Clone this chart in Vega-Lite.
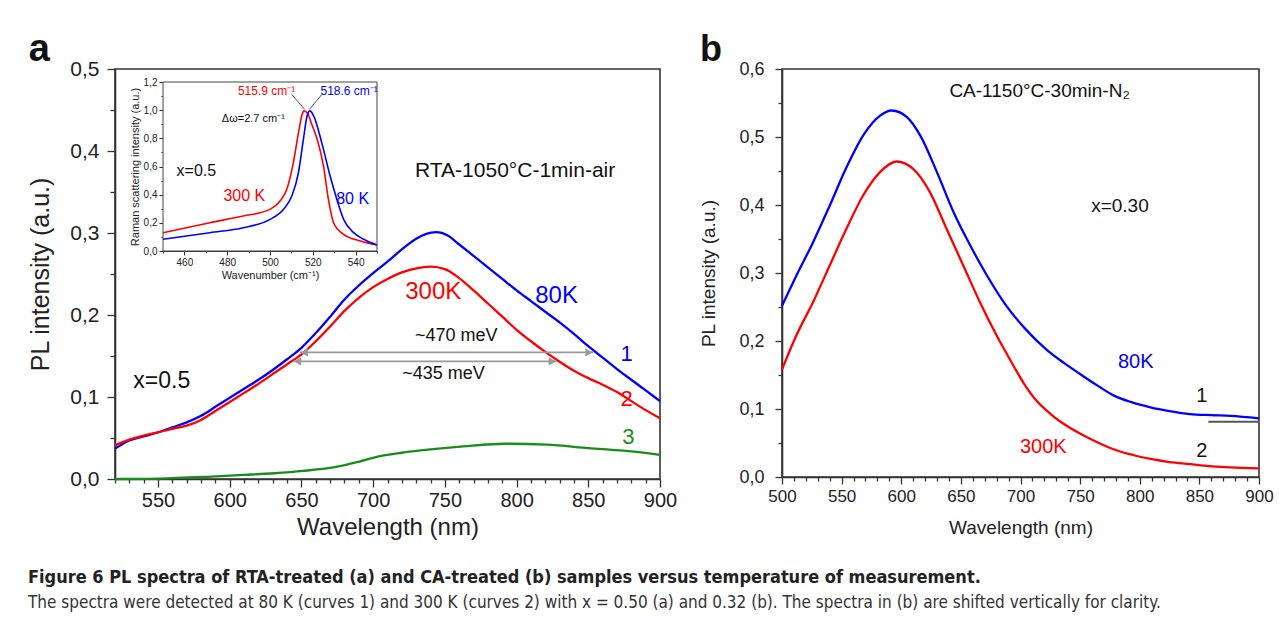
{
  "$schema": "https://vega.github.io/schema/vega-lite/v6.json",
  "padding": {"left": 28, "top": 30, "right": 3, "bottom": 5},
  "background": "white",
  "config": {
    "font": "Liberation Sans",
    "view": {"stroke": "#333", "strokeWidth": 1.6},
    "axis": {"grid": false, "domainColor": "#333", "domainWidth": 1.6, "tickColor": "#333", "tickWidth": 1.3, "labelColor": "#222", "titleColor": "#222", "labelFlush": false, "labelOverlap": false, "titleFontWeight": "normal", "labelFont": "Liberation Sans", "titleFont": "Liberation Sans"},
    "text": {"font": "Liberation Sans"}
  },
  "datasets": {
    "a_pl": [
      {"s":"1","nm":520,"v":0.037},{"s":"1","nm":530,"v":0.047},{"s":"1","nm":540,"v":0.052},{"s":"1","nm":550,"v":0.057},{"s":"1","nm":560,"v":0.063},{"s":"1","nm":570,"v":0.069},{"s":"1","nm":580,"v":0.077},{"s":"1","nm":590,"v":0.088},{"s":"1","nm":600,"v":0.099},{"s":"1","nm":610,"v":0.110},{"s":"1","nm":620,"v":0.121},{"s":"1","nm":630,"v":0.133},{"s":"1","nm":640,"v":0.146},{"s":"1","nm":650,"v":0.160},{"s":"1","nm":660,"v":0.178},{"s":"1","nm":670,"v":0.198},{"s":"1","nm":680,"v":0.219},{"s":"1","nm":690,"v":0.236},{"s":"1","nm":700,"v":0.251},{"s":"1","nm":710,"v":0.265},{"s":"1","nm":720,"v":0.280},{"s":"1","nm":730,"v":0.293},{"s":"1","nm":737,"v":0.299},{"s":"1","nm":744,"v":0.301},{"s":"1","nm":752,"v":0.297},{"s":"1","nm":760,"v":0.286},{"s":"1","nm":770,"v":0.272},{"s":"1","nm":780,"v":0.258},{"s":"1","nm":790,"v":0.244},{"s":"1","nm":800,"v":0.230},{"s":"1","nm":810,"v":0.217},{"s":"1","nm":820,"v":0.204},{"s":"1","nm":830,"v":0.191},{"s":"1","nm":840,"v":0.177},{"s":"1","nm":850,"v":0.162},{"s":"1","nm":860,"v":0.148},{"s":"1","nm":870,"v":0.134},{"s":"1","nm":880,"v":0.121},{"s":"1","nm":890,"v":0.108},{"s":"1","nm":900,"v":0.095},
      {"s":"2","nm":520,"v":0.041},{"s":"2","nm":530,"v":0.048},{"s":"2","nm":540,"v":0.053},{"s":"2","nm":550,"v":0.057},{"s":"2","nm":560,"v":0.061},{"s":"2","nm":570,"v":0.065},{"s":"2","nm":580,"v":0.072},{"s":"2","nm":590,"v":0.083},{"s":"2","nm":600,"v":0.094},{"s":"2","nm":610,"v":0.105},{"s":"2","nm":620,"v":0.116},{"s":"2","nm":630,"v":0.128},{"s":"2","nm":640,"v":0.140},{"s":"2","nm":650,"v":0.152},{"s":"2","nm":660,"v":0.168},{"s":"2","nm":670,"v":0.186},{"s":"2","nm":680,"v":0.205},{"s":"2","nm":690,"v":0.221},{"s":"2","nm":700,"v":0.234},{"s":"2","nm":710,"v":0.244},{"s":"2","nm":720,"v":0.252},{"s":"2","nm":730,"v":0.257},{"s":"2","nm":740,"v":0.259},{"s":"2","nm":750,"v":0.256},{"s":"2","nm":760,"v":0.245},{"s":"2","nm":770,"v":0.230},{"s":"2","nm":780,"v":0.214},{"s":"2","nm":790,"v":0.198},{"s":"2","nm":800,"v":0.182},{"s":"2","nm":810,"v":0.168},{"s":"2","nm":820,"v":0.155},{"s":"2","nm":830,"v":0.143},{"s":"2","nm":840,"v":0.132},{"s":"2","nm":850,"v":0.123},{"s":"2","nm":860,"v":0.115},{"s":"2","nm":870,"v":0.106},{"s":"2","nm":880,"v":0.095},{"s":"2","nm":890,"v":0.084},{"s":"2","nm":900,"v":0.074},
      {"s":"3","nm":520,"v":0.0},{"s":"3","nm":550,"v":0.0005},{"s":"3","nm":587,"v":0.003},{"s":"3","nm":610,"v":0.005},{"s":"3","nm":631,"v":0.007},{"s":"3","nm":651,"v":0.0098},{"s":"3","nm":675,"v":0.015},{"s":"3","nm":690,"v":0.021},{"s":"3","nm":704,"v":0.0275},{"s":"3","nm":720,"v":0.032},{"s":"3","nm":733,"v":0.0348},{"s":"3","nm":763,"v":0.0398},{"s":"3","nm":792,"v":0.043},{"s":"3","nm":821,"v":0.0418},{"s":"3","nm":850,"v":0.0377},{"s":"3","nm":880,"v":0.0336},{"s":"3","nm":900,"v":0.0295}
    ],
    "ins": [
      {"s":"2","wn":450,"r":0.130},{"s":"2","wn":471.9,"r":0.201},{"s":"2","wn":487.5,"r":0.248},{"s":"2","wn":500,"r":0.2955},{"s":"2","wn":504.7,"r":0.355},{"s":"2","wn":507.8,"r":0.437},{"s":"2","wn":510.9,"r":0.626},{"s":"2","wn":513.3,"r":0.839},{"s":"2","wn":515.0,"r":0.969},{"s":"2","wn":515.9,"r":0.995},{"s":"2","wn":517.6,"r":0.975},{"s":"2","wn":519.5,"r":0.90},{"s":"2","wn":521.9,"r":0.80},{"s":"2","wn":525,"r":0.603},{"s":"2","wn":527.3,"r":0.366},{"s":"2","wn":529.7,"r":0.201},{"s":"2","wn":534.4,"r":0.118},{"s":"2","wn":542.2,"r":0.071},{"s":"2","wn":550,"r":0.043},
      {"s":"1","wn":450,"r":0.083},{"s":"1","wn":471.9,"r":0.130},{"s":"1","wn":487.5,"r":0.165},{"s":"1","wn":500,"r":0.2246},{"s":"1","wn":506.25,"r":0.2955},{"s":"1","wn":510.2,"r":0.39},{"s":"1","wn":513.3,"r":0.556},{"s":"1","wn":515.6,"r":0.792},{"s":"1","wn":517.3,"r":0.957},{"s":"1","wn":518.6,"r":0.995},{"s":"1","wn":520.4,"r":0.96},{"s":"1","wn":524.2,"r":0.768},{"s":"1","wn":528.1,"r":0.532},{"s":"1","wn":531.25,"r":0.366},{"s":"1","wn":534.4,"r":0.2246},{"s":"1","wn":539.1,"r":0.130},{"s":"1","wn":543.75,"r":0.083},{"s":"1","wn":550,"r":0.043}
    ],
    "b_pl": [
      {"s":"1","nm":500,"v":0.252},{"s":"1","nm":512,"v":0.296},{"s":"1","nm":526,"v":0.345},{"s":"1","nm":540,"v":0.399},{"s":"1","nm":554,"v":0.455},{"s":"1","nm":568,"v":0.502},{"s":"1","nm":582,"v":0.531},{"s":"1","nm":592,"v":0.539},{"s":"1","nm":605,"v":0.529},{"s":"1","nm":616,"v":0.502},{"s":"1","nm":630,"v":0.448},{"s":"1","nm":644,"v":0.389},{"s":"1","nm":658,"v":0.340},{"s":"1","nm":672,"v":0.296},{"s":"1","nm":688,"v":0.252},{"s":"1","nm":705,"v":0.216},{"s":"1","nm":722,"v":0.187},{"s":"1","nm":737,"v":0.167},{"s":"1","nm":752,"v":0.149},{"s":"1","nm":765,"v":0.134},{"s":"1","nm":778,"v":0.120},{"s":"1","nm":793,"v":0.110},{"s":"1","nm":809,"v":0.1025},{"s":"1","nm":825,"v":0.097},{"s":"1","nm":842,"v":0.0926},{"s":"1","nm":860,"v":0.091},{"s":"1","nm":876,"v":0.090},{"s":"1","nm":900,"v":0.0863},
      {"s":"2","nm":500,"v":0.158},{"s":"2","nm":512,"v":0.208},{"s":"2","nm":526,"v":0.257},{"s":"2","nm":540,"v":0.311},{"s":"2","nm":554,"v":0.365},{"s":"2","nm":568,"v":0.414},{"s":"2","nm":582,"v":0.448},{"s":"2","nm":596,"v":0.464},{"s":"2","nm":610,"v":0.453},{"s":"2","nm":624,"v":0.419},{"s":"2","nm":638,"v":0.365},{"s":"2","nm":652,"v":0.311},{"s":"2","nm":666,"v":0.257},{"s":"2","nm":680,"v":0.208},{"s":"2","nm":694,"v":0.164},{"s":"2","nm":703,"v":0.137},{"s":"2","nm":712,"v":0.115},{"s":"2","nm":725,"v":0.093},{"s":"2","nm":738,"v":0.076},{"s":"2","nm":753,"v":0.061},{"s":"2","nm":767,"v":0.049},{"s":"2","nm":781,"v":0.039},{"s":"2","nm":795,"v":0.032},{"s":"2","nm":809,"v":0.0265},{"s":"2","nm":825,"v":0.022},{"s":"2","nm":842,"v":0.019},{"s":"2","nm":858,"v":0.016},{"s":"2","nm":876,"v":0.0143},{"s":"2","nm":900,"v":0.0128}
    ]
  },
  "hconcat": [
    {
      "width": 545,
      "height": 410,
      "title": {"text": "a", "anchor": "start", "frame": "bounds", "fontSize": 38, "fontWeight": "bold", "color": "#111", "offset": -11},
      "layer": [
        {
          "encoding": {
            "x": {"field": "nm", "type": "quantitative", "scale": {"domain": [520, 900], "nice": false, "zero": false},
              "axis": {"orient": "bottom", "values": [520,530,540,550,560,570,580,590,600,610,620,630,640,650,660,670,680,690,700,710,720,730,740,750,760,770,780,790,800,810,820,830,840,850,860,870,880,890,900],
                "labelExpr": "datum.value % 50 === 0 ? datum.label : ''",
                "tickSize": {"condition": {"test": "datum.value % 50 === 0", "value": 8}, "value": 4},
                "labelFontSize": 20, "labelPadding": 3, "title": "Wavelength (nm)", "titleFontSize": 24, "titlePadding": 5}},
            "y": {"field": "v", "type": "quantitative", "scale": {"domain": [0, 0.5], "nice": false, "zero": false},
              "axis": {"orient": "left", "values": [0,0.05,0.1,0.15,0.2,0.25,0.3,0.35,0.4,0.45,0.5],
                "labelExpr": "round(datum.value*100) % 10 === 0 ? replace(format(datum.value, '.1f'), '.', ',') : ''",
                "tickSize": {"condition": {"test": "round(datum.value*100) % 10 === 0", "value": 8}, "value": 5},
                "labelFontSize": 21, "labelPadding": 8, "title": "PL intensity (a.u.)", "titleFontSize": 25, "titlePadding": 16}}
          },
          "layer": [
            {"data": {"name": "a_pl"}, "mark": {"type": "line", "strokeWidth": 2.3, "interpolate": "monotone"},
              "encoding": {"color": {"field": "s", "type": "nominal", "scale": {"domain": ["1", "2", "3"], "range": ["#0000ff", "#ff0000", "#1a8c1a"]}, "legend": null}}},
            {"data": {"values": [{"nm": 649, "nm2": 853.5, "v": 0.1544}, {"nm": 644.3, "nm2": 827.9, "v": 0.1434}]},
              "mark": {"type": "rule", "color": "#9a9a9a", "strokeWidth": 1.8}, "encoding": {"x2": {"field": "nm2"}}},
            {"data": {"values": [{"nm": 652, "v": 0.1544}, {"nm": 647.3, "v": 0.1434}]},
              "mark": {"type": "point", "shape": "triangle-left", "filled": true, "color": "#9a9a9a", "size": 70, "opacity": 1}, "encoding": {}},
            {"data": {"values": [{"nm": 850.5, "v": 0.1544}, {"nm": 824.9, "v": 0.1434}]},
              "mark": {"type": "point", "shape": "triangle-right", "filled": true, "color": "#9a9a9a", "size": 70, "opacity": 1}, "encoding": {}},
            {"data": {"values": [{"t": "RTA-1050°C-1min-air", "nm": 799, "v": 0.376}]},
              "mark": {"type": "text", "fontSize": 21, "color": "#111"}, "encoding": {"text": {"field": "t"}}},
            {"data": {"values": [{"t": "x=0.5", "nm": 552.6, "v": 0.1199}]},
              "mark": {"type": "text", "fontSize": 23, "color": "#111"}, "encoding": {"text": {"field": "t"}}},
            {"data": {"values": [{"t": "~470 meV", "nm": 758, "v": 0.1748}, {"t": "~435 meV", "nm": 749, "v": 0.128}]},
              "mark": {"type": "text", "fontSize": 18, "color": "#111"}, "encoding": {"text": {"field": "t"}}},
            {"data": {"values": [{"t": "300K", "s": "2", "nm": 741.9, "v": 0.2276}, {"t": "80K", "s": "1", "nm": 827.9, "v": 0.2235}]},
              "mark": {"type": "text", "fontSize": 24}, "encoding": {"text": {"field": "t"}, "color": {"field": "s", "type": "nominal", "legend": null}}},
            {"data": {"values": [{"t": "1", "s": "1", "nm": 876.7, "v": 0.1525}, {"t": "2", "s": "2", "nm": 876.7, "v": 0.0976}, {"t": "3", "s": "3", "nm": 878, "v": 0.051}]},
              "mark": {"type": "text", "fontSize": 22}, "encoding": {"text": {"field": "t"}, "color": {"field": "s", "type": "nominal", "legend": null}}}
          ]
        },
        {
          "encoding": {
            "x": {"field": "wn", "type": "quantitative", "scale": {"domain": [450, 550], "range": [48, 262], "nice": false, "zero": false},
              "axis": {"orient": "bottom", "offset": -228, "values": [450,460,470,480,490,500,510,520,530,540,550],
                "labelExpr": "datum.value % 20 === 0 ? datum.label : ''",
                "tickSize": {"condition": {"test": "datum.value % 20 === 0", "value": 4}, "value": 2},
                "tickWidth": 1, "domainWidth": 1, "labelFontSize": 10, "labelPadding": 2, "title": "Wavenumber (cm⁻¹)", "titleFontSize": 11, "titlePadding": 2}},
            "y": {"field": "r", "type": "quantitative", "scale": {"domain": [0, 1.2], "range": [182, 13], "nice": false, "zero": false},
              "axis": {"orient": "left", "offset": -48, "values": [0,0.1,0.2,0.3,0.4,0.5,0.6,0.7,0.8,0.9,1.0,1.1,1.2],
                "labelExpr": "round(datum.value*10) % 2 === 0 ? replace(format(datum.value, '.1f'), '.', ',') : ''",
                "tickSize": {"condition": {"test": "round(datum.value*10) % 2 === 0", "value": 4}, "value": 2},
                "tickWidth": 1, "domainWidth": 1, "labelFontSize": 10, "labelPadding": 2, "title": "Raman scattering intensity (a.u.)", "titleFontSize": 11, "titlePadding": 3}}
          },
          "layer": [
            {"data": {"values": [{"wn": 450, "wn2": 550, "r": 0, "r2": 1.2}]},
              "mark": {"type": "rect", "fill": "white", "stroke": "#444", "strokeWidth": 1},
              "encoding": {"x2": {"field": "wn2"}, "y2": {"field": "r2"}}},
            {"data": {"name": "ins"}, "mark": {"type": "line", "strokeWidth": 1.6, "interpolate": "monotone"},
              "encoding": {"color": {"field": "s", "type": "nominal", "legend": null}}},
            {"data": {"values": [{"wn": 510.2, "wn2": 516.2, "r": 1.111, "r2": 1.005}, {"wn": 524.2, "wn2": 518.4, "r": 1.111, "r2": 1.005}]},
              "mark": {"type": "rule", "color": "#555", "strokeWidth": 1}, "encoding": {"x2": {"field": "wn2"}, "y2": {"field": "r2"}}},
            {"data": {"values": [{"t": "515.9 cm⁻¹", "s": "2", "wn": 498.4, "r": 1.135}, {"t": "518.6 cm⁻¹", "s": "1", "wn": 537, "r": 1.135}]},
              "mark": {"type": "text", "fontSize": 12}, "encoding": {"text": {"field": "t"}, "color": {"field": "s", "type": "nominal", "legend": null}}},
            {"data": {"values": [{"t": "Δω=2.7 cm⁻¹", "wn": 492.2, "r": 0.934}]},
              "mark": {"type": "text", "fontSize": 11, "color": "#111"}, "encoding": {"text": {"field": "t"}}},
            {"data": {"values": [{"t": "x=0.5", "wn": 465.6, "r": 0.567}]},
              "mark": {"type": "text", "fontSize": 16, "color": "#111"}, "encoding": {"text": {"field": "t"}}},
            {"data": {"values": [{"t": "300 K", "s": "2", "wn": 488, "r": 0.39}, {"t": "80 K", "s": "1", "wn": 538.6, "r": 0.366}]},
              "mark": {"type": "text", "fontSize": 16}, "encoding": {"text": {"field": "t"}, "color": {"field": "s", "type": "nominal", "legend": null}}}
          ]
        }
      ],
      "resolve": {"scale": {"x": "independent", "y": "independent"}, "axis": {"x": "independent", "y": "independent"}}
    },
    {
      "width": 477,
      "height": 408,
      "title": {"text": "b", "anchor": "start", "frame": "bounds", "fontSize": 36, "fontWeight": "bold", "color": "#111", "offset": -9},
      "encoding": {
        "x": {"field": "nm", "type": "quantitative", "scale": {"domain": [500, 900], "nice": false, "zero": false},
          "axis": {"orient": "bottom", "values": [500,510,520,530,540,550,560,570,580,590,600,610,620,630,640,650,660,670,680,690,700,710,720,730,740,750,760,770,780,790,800,810,820,830,840,850,860,870,880,890,900],
            "labelExpr": "datum.value % 50 === 0 ? datum.label : ''",
            "tickSize": {"condition": {"test": "datum.value % 50 === 0", "value": 7}, "value": 4},
            "labelFontSize": 17, "labelPadding": 4, "title": "Wavelength (nm)", "titleFontSize": 19, "titlePadding": 14}},
        "y": {"field": "v", "type": "quantitative", "scale": {"domain": [0, 0.6], "nice": false, "zero": false},
          "axis": {"orient": "left", "values": [0,0.05,0.1,0.15,0.2,0.25,0.3,0.35,0.4,0.45,0.5,0.55,0.6],
            "labelExpr": "round(datum.value*100) % 10 === 0 ? replace(format(datum.value, '.1f'), '.', ',') : ''",
            "tickSize": {"condition": {"test": "round(datum.value*100) % 10 === 0", "value": 7}, "value": 4},
            "labelFontSize": 18, "labelPadding": 11, "title": "PL intensity (a.u.)", "titleFontSize": 19, "titlePadding": 20}}
      },
      "layer": [
        {"data": {"name": "b_pl"}, "mark": {"type": "line", "strokeWidth": 2.3, "interpolate": "monotone"},
          "encoding": {"color": {"field": "s", "type": "nominal", "legend": null}}},
        {"data": {"values": [{"nm": 857.5, "nm2": 899.4, "v": 0.0813}]},
          "mark": {"type": "rule", "color": "#555", "strokeWidth": 2}, "encoding": {"x2": {"field": "nm2"}}},
        {"data": {"values": [{"t": "CA-1150°C-30min-N₂", "nm": 716, "v": 0.5676}, {"t": "x=0.30", "nm": 783.4, "v": 0.3985}]},
          "mark": {"type": "text", "fontSize": 19, "color": "#111"}, "encoding": {"text": {"field": "t"}}},
        {"data": {"values": [{"t": "1", "nm": 852, "v": 0.1196}, {"t": "2", "nm": 852, "v": 0.0387}]},
          "mark": {"type": "text", "fontSize": 20, "color": "#111"}, "encoding": {"text": {"field": "t"}}},
        {"data": {"values": [{"t": "80K", "s": "1", "nm": 796.6, "v": 0.1687}, {"t": "300K", "s": "2", "nm": 719.1, "v": 0.0437}]},
          "mark": {"type": "text", "fontSize": 20}, "encoding": {"text": {"field": "t"}, "color": {"field": "s", "type": "nominal", "legend": null}}}
      ]
    }
  ],
  "spacing": 21,
  "title": {
    "text": "Figure 6 PL spectra of RTA-treated (a) and CA-treated (b) samples versus temperature of measurement.",
    "subtitle": "The spectra were detected at 80 K (curves 1) and 300 K (curves 2) with x = 0.50 (a) and 0.32 (b). The spectra in (b) are shifted vertically for clarity.",
    "orient": "bottom", "anchor": "start", "frame": "bounds",
    "font": "DejaVu Sans Condensed, Liberation Sans", "fontSize": 18, "fontWeight": "bold", "color": "#222",
    "subtitleFont": "DejaVu Sans Condensed, Liberation Sans", "subtitleFontSize": 17, "subtitleColor": "#333",
    "offset": 29, "subtitlePadding": 8
  }
}
